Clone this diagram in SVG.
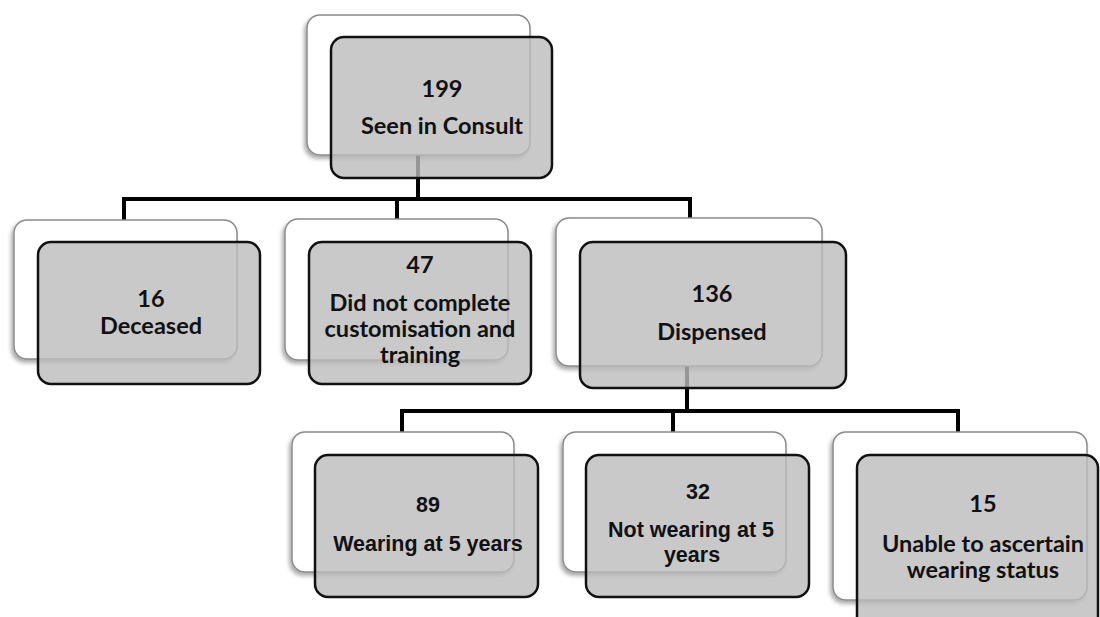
<svg xmlns="http://www.w3.org/2000/svg" width="1100" height="617" viewBox="0 0 1100 617">
<defs>
<filter id="sh" x="-10%" y="-10%" width="120%" height="130%">
<feDropShadow dx="-2" dy="3" stdDeviation="2" flood-color="#000" flood-opacity="0.35"/>
</filter>
<style>
.back{fill:#fff;stroke:#8a8a8a;stroke-width:1.5;filter:url(#sh)}
.front{fill:#bbbbbb;fill-opacity:0.8;stroke:#111;stroke-width:2.5}
.c{fill:none;stroke:#000;stroke-width:4}
.t{font-family:Lato,"Open Sans","DejaVu Sans",sans-serif;font-weight:bold;font-size:23.5px;fill:#111;text-anchor:middle}
.a{font-family:"Liberation Sans",Arial,sans-serif;font-weight:bold;font-size:21.5px;fill:#111;text-anchor:middle}
</style>
</defs>
<rect width="1100" height="617" fill="#fff"/>
<g id="connectors">
<path class="c" d="M418,155 V199 M122,199 H692 M124,199 V220 M397,199 V220 M690,199 V219"/>
<path class="c" d="M687,366 V411 M400,411 H960 M402,411 V432 M673,411 V432 M958,411 V432"/>
</g>
<g id="n199">
<rect class="back" x="307" y="15" width="223" height="140" rx="13"/>
<rect class="front" x="331" y="37" width="221" height="141" rx="13"/>
<text class="t" x="442" y="97">199</text>
<text class="t" x="442" y="134">Seen in Consult</text>
</g>
<g id="n16">
<rect class="back" x="14" y="220" width="223" height="139" rx="13"/>
<rect class="front" x="38" y="242" width="222" height="142" rx="13"/>
<text class="t" x="151" y="307">16</text>
<text class="t" x="151" y="334">Deceased</text>
</g>
<g id="n47">
<rect class="back" x="285" y="219" width="223" height="141" rx="13"/>
<rect class="front" x="309" y="242" width="222" height="142" rx="13"/>
<text class="t" x="420" y="273">47</text>
<text class="t" x="420" y="311">Did not complete</text>
<text class="t" x="420" y="337">customisation and</text>
<text class="t" x="420" y="363">training</text>
</g>
<g id="n136">
<rect class="back" x="556" y="218" width="266" height="148" rx="13"/>
<rect class="front" x="580" y="242" width="266" height="146" rx="13"/>
<text class="t" x="712" y="302">136</text>
<text class="t" x="712" y="340">Dispensed</text>
</g>
<g id="n89">
<rect class="back" x="292" y="432" width="222" height="140" rx="13"/>
<rect class="front" x="315" y="455" width="223" height="142" rx="13"/>
<text class="a" x="428" y="512">89</text>
<text class="a" x="428" y="551">Wearing at 5 years</text>
</g>
<g id="n32">
<rect class="back" x="563" y="432" width="223" height="140" rx="13"/>
<rect class="front" x="586" y="455" width="223" height="142" rx="13"/>
<text class="a" x="698" y="499">32</text>
<text class="a" x="691" y="537">Not wearing at 5</text>
<text class="a" x="692" y="562">years</text>
</g>
<g id="n15">
<rect class="back" x="833" y="432" width="254" height="168" rx="13"/>
<rect class="front" x="857" y="455" width="241" height="175" rx="13"/>
<text class="t" x="983" y="512">15</text>
<text class="t" x="983" y="552">Unable to ascertain</text>
<text class="t" x="983" y="578">wearing status</text>
</g>
</svg>
